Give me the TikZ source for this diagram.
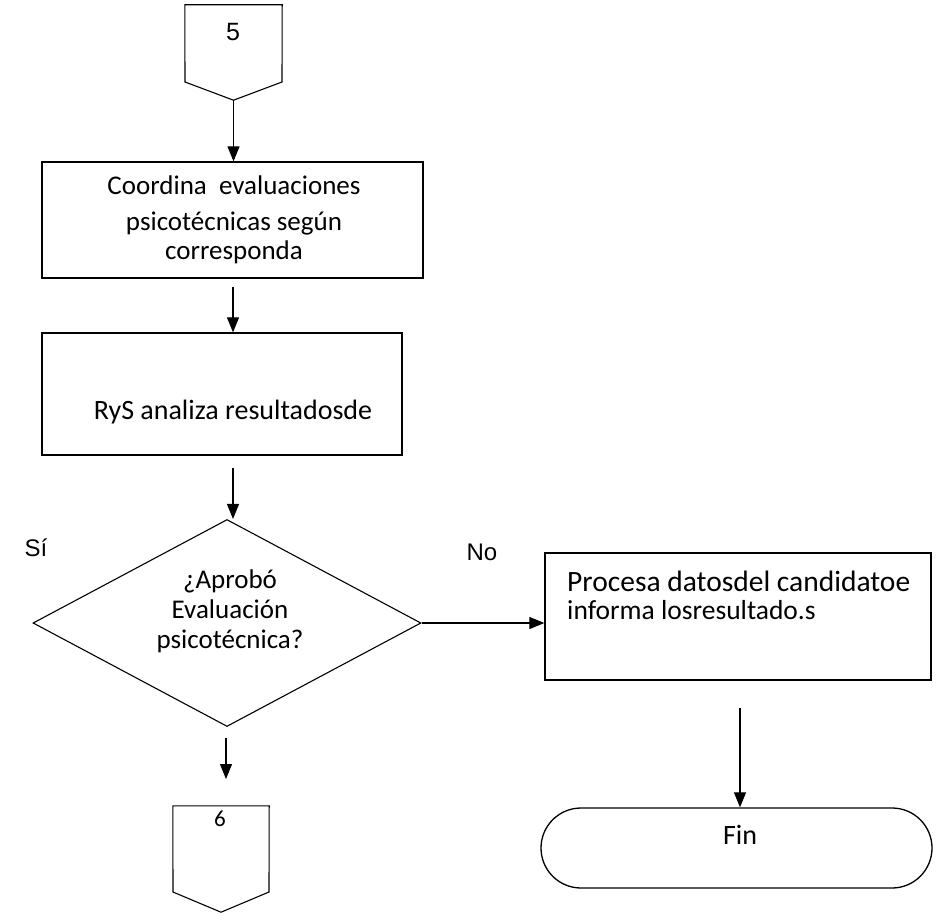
\documentclass[tikz,border=0pt]{standalone}
\usepackage{fontspec}
\setmainfont{Carlito}
\newfontfamily\arialfont{Liberation Sans}
\usetikzlibrary{shapes.geometric,shapes.misc,arrows.meta}
\begin{document}
\begin{tikzpicture}[x=1pt,y=-1pt,
  txt/.style={font=\fontsize{27}{29}\selectfont, inner sep=0pt},
  atxt/.style={font=\arialfont\fontsize{24}{26}\selectfont, inner sep=0pt},
  procbox/.style={draw, line width=1.3pt, inner sep=0pt},
  decision/.style={draw, diamond, line width=1.1pt, inner sep=0pt,
    minimum width=388pt, minimum height=207pt},
  terminal/.style={draw, rounded rectangle, line width=1.3pt, inner sep=0pt,
    minimum width=391pt, minimum height=80pt},
  ghost/.style={inner sep=0pt},
  flow/.style={line width=1.1pt, -{Triangle[length=15pt,width=12pt]}},
  outline/.style={line width=1.1pt, line join=miter}]
\useasboundingbox (0,0) rectangle (936,915);

% off-page connector 5
\node[ghost, minimum width=97pt, minimum height=95pt] (c5) at (233.5,52.5) {};
\draw[outline] (c5.north west) -- (c5.north east) -- (282,82) -- (c5.south)
  -- (185,82) -- cycle;
\node[atxt, font=\arialfont\fontsize{25}{27}\selectfont] (n5) at (233,32) {5};

% process boxes
\node[procbox, minimum width=381pt, minimum height=116pt] (b1) at (232.5,220)
  {};
\node[txt, align=center] (t1) at (234,220)
  {Coordina\ \ evaluaciones\\[7pt] psicotécnicas\ según\\corresponda};

\node[procbox, minimum width=360pt, minimum height=122pt] (b2) at (222,394) {};
\node[txt, font=\fontsize{28}{30}\selectfont] (t2) at (233,412)
  {RyS analiza resultadosde};

% decision
\node[decision] (d) at (227,623) {};
\node[txt, align=center, font=\fontsize{27}{30}\selectfont] (td) at (230,611)
  {¿Aprobó\\Evaluación\\psicotécnica?};
\node[atxt] (si) at (36,548) {Sí};
\node[atxt] (no) at (482,552) {No};

% process box on the "No" branch
\node[procbox, minimum width=386pt, minimum height=127pt] (b3) at (738,616.5)
  {};
\node[txt, anchor=base west, font=\fontsize{29.5}{30}\selectfont]
  (t3a) at (567,591) {Procesa datosdel candidatoe};
\node[txt, anchor=base west, font=\fontsize{27.5}{30}\selectfont]
  (t3b) at (567,619) {informa losresultado.s};

% terminal
\node[terminal] (fin) at (736.5,848) {};
\node[txt, font=\fontsize{28}{30}\selectfont] (tf) at (740,835) {Fin};

% off-page connector 6
\node[ghost, minimum width=96pt, minimum height=106pt] (c6) at (221,859) {};
\draw[outline] (c6.north west) -- (c6.north east) -- (269,892) -- (c6.south)
  -- (173,892) -- cycle;
\node[txt, font=\fontsize{23}{25}\selectfont] (n6) at (220,819) {6};

% connectors
\coordinate (a2s) at (233,287);
\coordinate (a3s) at (233,468);
\coordinate (a5s) at (740,708);
\coordinate (a6s) at (226,738);
\coordinate (a6e) at (226,779);
\draw[flow] (c5.south) -- (b1.north -| c5.south);
\draw[flow] (a2s) -- (b2.north -| a2s);
\draw[flow] (a3s) -- (a3s |- d.north);
\draw[flow] (d.east) -- (d.east -| b3.west);
\draw[flow] (a5s) -- (fin.north -| a5s);
\draw[flow] (a6s) -- (a6e);
\end{tikzpicture}
\end{document}
